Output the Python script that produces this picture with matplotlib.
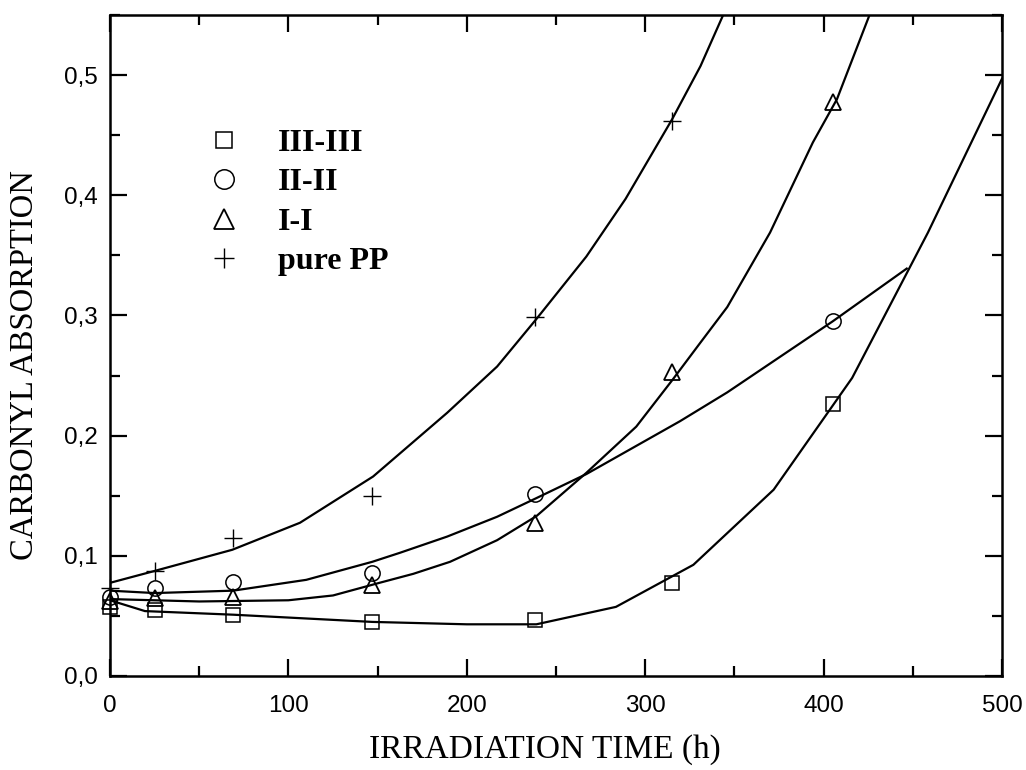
import matplotlib
matplotlib.use("Agg")
import matplotlib.pyplot as plt
from matplotlib.lines import Line2D
from matplotlib.ticker import MultipleLocator, FuncFormatter

# measured points
t_pp = [0, 25, 69, 147, 238, 315]
a_pp = [0.073, 0.087, 0.115, 0.150, 0.299, 0.462]

t_ser = [0, 25, 69, 147, 238, 315, 405]
a_iii = [0.0575, 0.055, 0.051, 0.045, 0.0467, 0.0775, 0.2267]
a_ii = [0.066, 0.0733, 0.078, 0.086, 0.1517, None, 0.295]
a_i = [0.062, 0.065, 0.066, 0.076, 0.1275, 0.253, 0.478]

# fitted curves
fit_pp_t = [0, 24, 68.5, 106.5, 147.5, 189, 217, 239, 267, 289, 315, 331, 344]
fit_pp_a = [0.0775, 0.087, 0.105, 0.1275, 0.166, 0.219, 0.2575, 0.297, 0.349, 0.397, 0.463, 0.5075, 0.551]

fit_i_t = [0, 50, 100, 125, 151, 170, 190.6, 217, 239, 267, 295, 315.6, 331, 346, 370, 394, 407.5, 426]
fit_i_a = [0.064, 0.062, 0.063, 0.067, 0.0775, 0.085, 0.095, 0.113, 0.133, 0.169, 0.2075, 0.247, 0.2775, 0.307, 0.369, 0.444, 0.48, 0.551]

fit_ii_t = [0, 25, 69, 110, 147, 162.5, 189, 217, 239, 267, 319.5, 346, 405, 446.6]
fit_ii_a = [0.071, 0.069, 0.071, 0.08, 0.095, 0.1025, 0.116, 0.1325, 0.148, 0.168, 0.212, 0.236, 0.295, 0.339]

fit_iii_t = [0, 19.6, 69, 147, 200, 239, 283.6, 327, 372, 416, 458.5, 500]
fit_iii_a = [0.063, 0.054, 0.051, 0.045, 0.043, 0.043, 0.0575, 0.0925, 0.155, 0.248, 0.369, 0.497]

labels = ['III-III', 'II-II', 'I-I', 'pure PP']

serif = ['Liberation Serif', 'DejaVu Serif']
sans = ['Liberation Sans', 'DejaVu Sans']

fig = plt.figure(figsize=(10.26, 7.7), dpi=100)
ax = fig.add_axes([0.1072, 0.1221, 0.8694, 0.8584])

lw = 1.6
ax.plot(fit_pp_t, fit_pp_a, color='k', lw=lw)
ax.plot(fit_i_t, fit_i_a, color='k', lw=lw)
ax.plot(fit_ii_t, fit_ii_a, color='k', lw=lw)
ax.plot(fit_iii_t, fit_iii_a, color='k', lw=lw)

def pts(xs, ys):
    keep = [(x, y) for x, y in zip(xs, ys) if y is not None]
    return [k[0] for k in keep], [k[1] for k in keep]

x, y = pts(t_ser, a_iii)
ax.plot(x, y, ls='none', marker='s', ms=9.5, mfc='none', mec='k', mew=1.1, clip_on=False)
x, y = pts(t_ser, a_ii)
ax.plot(x, y, ls='none', marker='o', ms=11, mfc='none', mec='k', mew=1.1, clip_on=False)
x, y = pts(t_ser, a_i)
ax.plot(x, y, ls='none', marker='^', ms=12, mfc='none', mec='k', mew=1.3, clip_on=False)
ax.plot(t_pp, a_pp, ls='none', marker='+', ms=13, mec='k', mew=1.0, clip_on=False)

ax.set_xlim(0, 500)
ax.set_ylim(0, 0.55)

ax.xaxis.set_major_locator(MultipleLocator(100))
ax.xaxis.set_minor_locator(MultipleLocator(50))
ax.yaxis.set_major_locator(MultipleLocator(0.1))
ax.yaxis.set_minor_locator(MultipleLocator(0.05))
ax.yaxis.set_major_formatter(FuncFormatter(lambda v, p: ('%.1f' % v).replace('.', ',')))

ax.tick_params(which='both', direction='in', top=True, right=True, width=1.6)
ax.tick_params(which='major', length=12)
ax.tick_params(axis='x', which='major', pad=14)
ax.tick_params(axis='y', which='major', pad=9)
ax.tick_params(which='minor', length=7)
for lab in ax.get_xticklabels() + ax.get_yticklabels():
    lab.set_family(sans)
    lab.set_fontsize(17.5)
for s in ax.spines.values():
    s.set_linewidth(1.8)

ax.set_xlabel('IRRADIATION TIME (h)', family=serif, fontsize=24)
ax.set_ylabel('CARBONYL ABSORPTION', family=serif, fontsize=23.5)
ax.xaxis.set_label_coords(0.488, -0.088)
ax.yaxis.set_label_coords(-0.078, 0.47)

handles = [
    Line2D([], [], ls='none', marker='s', ms=12, mfc='none', mec='k', mew=1.1),
    Line2D([], [], ls='none', marker='o', ms=14, mfc='none', mec='k', mew=1.1),
    Line2D([], [], ls='none', marker='^', ms=15, mfc='none', mec='k', mew=1.3),
    Line2D([], [], ls='none', marker='+', ms=15, mec='k', mew=1.0),
]
ax.legend(handles, labels, loc='upper left', bbox_to_anchor=(0.0775, 0.872),
          frameon=False, handlelength=1.0, handletextpad=1.2, labelspacing=0.32,
          prop={'family': serif, 'weight': 'bold', 'size': 23})

fig.savefig('out.png', dpi=100)
